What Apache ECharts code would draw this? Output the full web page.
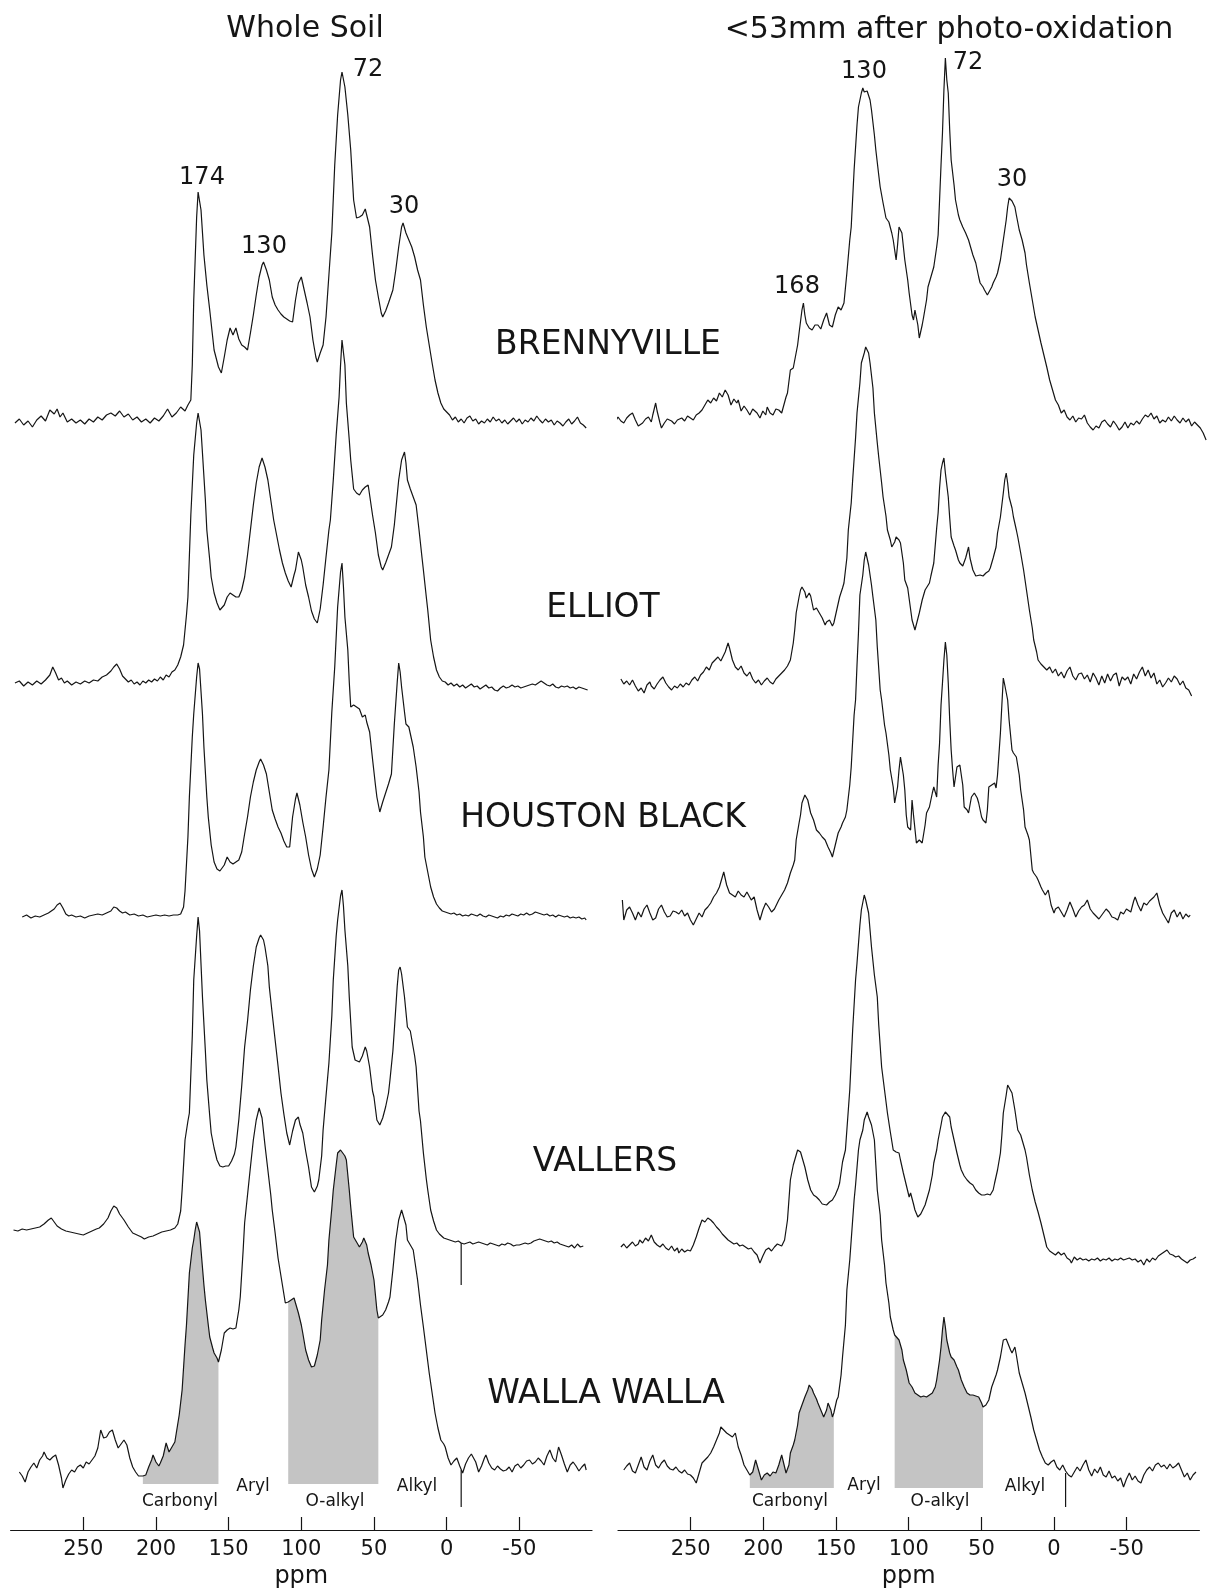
<!DOCTYPE html>
<html><head><meta charset="utf-8">
<script src="https://cdn.jsdelivr.net/npm/echarts@6.0.0/dist/echarts.min.js"></script>
<style>html,body{margin:0;padding:0;background:#fff}#c{width:1209px;height:1591px}</style>
</head><body><div id="c"></div>
<script>
// ---------------- DATA (ppm, intensity above each trace's baseline) ----------------
const tickValues = [250, 200, 150, 100, 50, 0, -50];
const sampleNames = ['BRENNYVILLE', 'ELLIOT', 'HOUSTON BLACK', 'VALLERS', 'WALLA WALLA'];
const panelTitles = ['Whole Soil', '<53mm after photo-oxidation'];
const peakLabelsLeft = ['174', '130', '72', '30'];
const peakLabelsRight = ['168', '130', '72', '30'];
const regionNames = ['Carbonyl', 'Aryl', 'O-alkyl', 'Alkyl'];
const fillRangesLeft = [[209, 157], [109, 47]];
const fillRangesRight = [[209, 151], [109, 48]];

const wsBrennyville = [[297,2],[294,6],[291,0],[288,4],[285,-2],[282,5],[279,9],[276,4],[273,15],[270,11],[268,16],[266,8],[264,12],[261,3],[258,6],[255,2],[252,5],[249,1],[246,6],[243,3],[240,8],[237,5],[234,10],[231,12],[228,9],[225,14],[222,8],[219,11],[216,5],[213,8],[210,3],[207,6],[204,2],[201,7],[198,4],[195,9],[192,16],[189,8],[186,12],[183,18],[180,14],[178,20],[176,25],[175,60],[174,125],[172,208],[171,233],[169,215],[167,170],[165,140],[163,115],[160,75],[157,58],[155,52],[153,68],[151,85],[149,97],[147,90],[145,97],[143,86],[141,80],[139,78],[137,75],[135,92],[133,110],[131,130],[129,148],[127,160],[126,163],[124,155],[122,145],[120,128],[118,120],[116,115],[114,111],[112,108],[110,106],[108,104],[106,103],[104,125],[102,142],[100,148],[98,135],[96,122],[94,108],[92,85],[90,68],[89,63],[87,72],[85,80],[83,108],[81,150],[79,192],[77,260],[75,310],[73,345],[72,353],[70,338],[68,310],[66,275],[64,225],[62,207],[60,208],[58,210],[56,216],[55,218],[53,198],[51,170],[49,145],[47,128],[45,112],[44,108],[42,114],[40,122],[37,135],[35,155],[33,178],[31,198],[30,202],[28,192],[26,185],[24,178],[22,168],[20,155],[18,145],[16,120],[14,98],[12,80],[10,62],[8,45],[6,32],[4,22],[2,16],[0,13],[-2,10],[-4,5],[-6,8],[-8,3],[-10,6],[-12,2],[-14,7],[-16,9],[-18,4],[-20,6],[-22,1],[-24,4],[-26,2],[-28,6],[-30,3],[-32,8],[-34,4],[-36,6],[-38,2],[-40,5],[-42,1],[-44,4],[-46,7],[-48,3],[-50,6],[-52,1],[-54,5],[-56,3],[-58,7],[-60,4],[-62,9],[-64,5],[-66,2],[-68,6],[-70,3],[-72,5],[-74,0],[-76,4],[-78,2],[-80,-1],[-82,3],[-84,6],[-86,1],[-88,4],[-90,8],[-92,2],[-94,0],[-96,-3]];

const wsElliot = [[297,2],[294,4],[291,-1],[288,3],[285,0],[282,4],[279,1],[276,5],[273,10],[271,18],[269,12],[267,5],[265,7],[263,2],[261,4],[258,0],[255,3],[252,1],[249,4],[246,2],[243,5],[240,4],[237,8],[234,10],[231,14],[229,18],[227,21],[225,16],[223,9],[221,6],[219,3],[217,5],[215,1],[213,3],[211,0],[209,4],[207,2],[205,5],[203,3],[201,6],[199,4],[197,8],[195,5],[193,10],[191,8],[189,13],[187,15],[185,20],[183,28],[181,40],[179,70],[178,88],[176,170],[174,230],[172,262],[171,272],[169,255],[168,232],[166,185],[165,155],[163,125],[162,108],[160,92],[158,82],[156,75],[155,73],[153,80],[151,88],[149,92],[147,90],[145,88],[143,88],[141,95],[139,108],[137,130],[135,155],[133,180],[131,202],[129,218],[127,227],[125,218],[123,205],[121,185],[119,165],[117,150],[115,135],[113,122],[111,112],[109,104],[107,98],[105,110],[104,115],[102,133],[100,125],[99,118],[97,100],[95,88],[93,74],[91,66],[89,62],[87,76],[85,100],[83,128],[81,155],[80,165],[78,205],[76,250],[74,288],[73,320],[72,345],[70,320],[69,282],[67,245],[66,225],[64,196],[62,192],[60,190],[58,195],[56,198],[54,200],[53,190],[51,170],[49,152],[47,130],[45,118],[44,115],[42,122],[40,130],[38,138],[36,160],[35,175],[33,205],[31,225],[29,233],[28,222],[27,205],[25,196],[23,188],[21,180],[19,155],[17,128],[16,115],[14,88],[13,75],[11,45],[9,28],[7,15],[5,8],[3,4],[1,3],[-1,0],[-3,2],[-5,-1],[-7,1],[-9,-2],[-11,0],[-13,-3],[-15,-1],[-17,1],[-19,-2],[-21,-1],[-23,-4],[-25,-2],[-27,0],[-29,-3],[-31,-2],[-33,-5],[-35,-6],[-37,-3],[-39,-1],[-41,-3],[-43,-2],[-45,0],[-47,-2],[-49,-1],[-51,-3],[-53,-2],[-55,-1],[-57,0],[-59,1],[-61,0],[-63,2],[-65,4],[-67,2],[-69,0],[-71,-1],[-73,1],[-75,-2],[-77,-3],[-79,-1],[-81,-2],[-83,-1],[-85,-3],[-87,-2],[-89,-4],[-91,-2],[-93,-3],[-95,-4],[-97,-5]];

const wsHouston = [[292,0],[289,2],[286,-1],[283,1],[280,0],[277,2],[274,4],[272,6],[270,8],[268,12],[266,14],[264,9],[262,3],[260,1],[258,2],[255,0],[252,1],[249,-1],[246,1],[243,2],[240,3],[237,2],[234,4],[231,6],[229,10],[227,9],[225,6],[223,4],[221,5],[218,2],[215,3],[212,1],[209,2],[206,0],[203,1],[200,2],[197,1],[194,2],[191,1],[188,2],[185,2],[183,3],[181,10],[180,26],[178,80],[177,120],[175,180],[174,203],[172,240],[171,254],[170,248],[168,203],[167,170],[165,120],[164,100],[162,72],[160,55],[158,48],[156,46],[155,47],[153,52],[151,60],[149,55],[147,53],[145,55],[143,57],[141,65],[139,83],[137,100],[135,120],[133,135],[131,147],[129,155],[128,158],[126,152],[124,143],[122,125],[120,107],[118,98],[116,90],[114,84],[112,76],[110,70],[108,70],[106,100],[104,118],[103,124],[101,112],[99,95],[97,80],[95,62],[93,48],[91,40],[89,48],[87,62],[85,90],[83,120],[81,147],[79,205],[77,250],[75,310],[73,345],[72,354],[71,330],[70,300],[68,267],[67,235],[66,210],[64,212],[62,210],[60,208],[58,200],[56,202],[55,195],[53,185],[51,158],[49,132],[48,120],[46,105],[44,115],[42,124],[40,133],[38,143],[36,193],[34,235],[33,254],[32,245],[31,230],[29,205],[28,193],[26,190],[25,190],[23,170],[21,150],[19,125],[18,105],[16,80],[15,60],[13,45],[11,30],[9,20],[7,13],[5,9],[3,6],[1,5],[-1,4],[-3,3],[-5,4],[-7,2],[-9,3],[-11,1],[-13,2],[-15,1],[-17,3],[-19,2],[-21,1],[-23,3],[-25,1],[-27,0],[-29,2],[-31,1],[-33,0],[-35,-1],[-37,1],[-39,0],[-41,2],[-43,1],[-45,3],[-47,2],[-49,1],[-51,3],[-53,2],[-55,4],[-57,2],[-59,3],[-61,5],[-63,4],[-65,3],[-67,2],[-69,3],[-71,1],[-73,2],[-75,0],[-77,2],[-79,1],[-81,0],[-83,1],[-85,-1],[-87,0],[-89,-1],[-91,0],[-93,-2],[-95,-1],[-96,-3]];

const wsVallers = [[298,6],[295,5],[292,7],[289,6],[286,7],[283,8],[280,9],[277,12],[274,16],[272,18],[270,14],[268,10],[265,7],[262,5],[259,4],[256,3],[253,2],[250,1],[247,3],[244,5],[241,7],[239,8],[236,12],[233,18],[231,25],[229,30],[227,28],[225,22],[222,16],[219,9],[216,3],[213,1],[210,-1],[208,-3],[205,-1],[202,0],[199,2],[196,4],[193,5],[190,6],[187,8],[185,12],[183,25],[182,46],[180,96],[178,115],[177,123],[175,200],[174,256],[172,300],[171,319],[170,305],[168,239],[166,185],[165,156],[163,120],[162,103],[160,88],[158,76],[156,70],[154,69],[152,70],[150,70],[148,75],[146,82],[145,89],[143,116],[141,150],[139,189],[137,215],[135,246],[133,270],[131,289],[129,298],[128,301],[126,296],[125,289],[123,270],[122,249],[120,222],[118,196],[116,170],[114,143],[112,122],[110,103],[108,91],[106,105],[104,116],[102,119],[101,112],[99,103],[97,85],[95,69],[93,49],[91,44],[89,50],[88,56],[86,80],[85,106],[83,140],[81,173],[79,220],[78,256],[76,300],[75,316],[73,340],[72,346],[71,330],[70,306],[68,270],[67,239],[65,189],[63,176],[62,174],[60,174],[58,180],[56,189],[55,185],[53,169],[51,145],[50,139],[48,116],[46,111],[44,118],[42,129],[40,143],[39,156],[37,185],[36,206],[34,250],[33,266],[32,269],[31,262],[29,239],[27,209],[25,205],[24,203],[22,180],[21,169],[19,125],[18,115],[16,83],[14,57],[13,46],[11,26],[9,15],[7,6],[5,2],[2,-2],[0,-3],[-2,-4],[-4,-5],[-6,-6],[-8,-5],[-10,-7],[-12,-8],[-14,-7],[-16,-6],[-18,-8],[-20,-7],[-22,-6],[-24,-7],[-26,-8],[-28,-9],[-30,-7],[-32,-8],[-34,-9],[-36,-10],[-38,-8],[-40,-9],[-42,-7],[-44,-8],[-46,-10],[-48,-9],[-50,-9],[-52,-8],[-54,-7],[-56,-8],[-58,-7],[-60,-5],[-62,-4],[-64,-3],[-66,-4],[-68,-5],[-70,-6],[-72,-5],[-74,-7],[-76,-6],[-78,-8],[-80,-9],[-82,-10],[-84,-11],[-86,-9],[-88,-12],[-90,-8],[-92,-11],[-94,-10]];

const wsWallaWalla = [[294,-2],[292,-6],[290,-12],[288,-2],[286,3],[284,7],[282,2],[280,10],[278,14],[277,18],[275,12],[273,10],[271,13],[269,15],[267,5],[265,-8],[264,-18],[262,-10],[260,-4],[258,0],[256,-2],[254,3],[252,5],[250,2],[248,8],[246,6],[244,10],[242,14],[240,22],[238,40],[236,32],[234,33],[232,38],[230,40],[228,30],[226,22],[224,26],[222,30],[220,25],[218,12],[216,3],[214,-2],[212,-6],[211,-7],[209,-6],[207,-5],[205,3],[203,10],[202,15],[200,8],[198,4],[197,7],[195,14],[193,27],[191,18],[189,23],[187,28],[186,37],[184,55],[182,80],[180,125],[179,145],[177,197],[175,222],[174,230],[173,240],[172,248],[170,238],[169,220],[167,185],[166,170],[164,145],[163,133],[161,122],[160,117],[158,112],[157,108],[155,120],[153,137],[151,140],[149,142],[147,141],[145,142],[143,160],[142,173],[140,220],[139,247],[137,275],[135,303],[133,330],[131,350],[129,362],[127,352],[125,325],[123,300],[121,275],[120,260],[118,237],[116,212],[115,203],[113,185],[111,167],[109,168],[107,170],[105,172],[104,173],[102,157],[100,145],[99,137],[97,120],[95,110],[93,103],[91,104],[89,115],[87,130],[86,150],[84,180],[82,205],[81,230],[79,262],[78,280],[76,305],[75,317],[73,320],[72,320],[70,314],[69,310],[67,280],[66,263],[64,233],[62,228],[60,223],[58,228],[57,232],[55,225],[54,217],[52,205],[50,190],[49,175],[48,160],[47,152],[46,150],[44,155],[42,160],[40,168],[39,173],[37,200],[35,230],[33,250],[31,260],[30,262],[28,245],[27,230],[25,225],[23,220],[21,200],[20,190],[18,165],[16,143],[14,120],[12,97],[10,77],[8,57],[6,42],[4,30],[2,26],[1,23],[-1,12],[-3,5],[-5,9],[-7,12],[-9,4],[-11,-3],[-13,6],[-15,12],[-17,16],[-18,18],[-20,8],[-22,-2],[-24,4],[-26,12],[-27,15],[-29,7],[-31,2],[-33,0],[-35,4],[-37,1],[-39,-1],[-41,0],[-43,3],[-45,-2],[-47,4],[-49,6],[-51,2],[-53,5],[-55,9],[-57,10],[-59,6],[-61,8],[-63,12],[-65,9],[-67,5],[-69,14],[-71,20],[-73,12],[-75,8],[-77,23],[-79,15],[-81,6],[-83,-2],[-85,5],[-87,8],[-89,4],[-91,-1],[-93,3],[-95,6],[-96,0]];

const poBrennyville = [[304,-2],[302,3],[300,8],[298,4],[296,2],[294,7],[292,10],[290,12],[288,5],[286,-1],[285,-3],[283,2],[281,6],[279,8],[277,3],[276,10],[274,22],[273,14],[271,2],[270,-3],[268,2],[266,6],[265,8],[263,4],[261,1],[259,5],[258,3],[256,7],[254,4],[252,9],[250,7],[248,5],[246,10],[244,12],[242,15],[240,20],[238,25],[236,22],[234,27],[232,24],[230,32],[228,28],[226,35],[224,30],[222,20],[220,26],[218,22],[217,25],[215,14],[213,19],[211,15],[209,10],[207,16],[206,18],[204,12],[202,7],[200,14],[198,10],[197,18],[195,12],[193,10],[191,16],[189,15],[187,12],[186,14],[184,28],[183,32],[181,55],[179,57],[178,58],[176,80],[175,92],[173,115],[172,122],[171,110],[170,102],[168,97],[166,95],[164,100],[162,100],[160,96],[158,105],[156,112],[154,100],[152,98],[150,110],[148,118],[146,115],[144,122],[142,152],[140,185],[139,198],[137,255],[135,300],[134,318],[132,332],[131,337],[130,333],[128,334],[126,325],[125,315],[123,290],[122,275],[120,250],[119,238],[117,222],[115,207],[113,203],[111,192],[110,185],[108,165],[107,180],[106,198],[104,192],[102,165],[100,145],[99,132],[97,110],[96,105],[95,115],[93,100],[92,87],[90,100],[89,108],[87,125],[86,138],[84,148],[82,158],[80,178],[79,190],[78,225],[77,260],[76,292],[75,335],[74,367],[73,345],[72,332],[71,295],[70,265],[68,240],[67,225],[65,210],[64,205],[62,198],[60,192],[58,185],[56,175],[55,170],[53,162],[51,148],[50,142],[48,138],[47,135],[45,130],[44,128],[42,138],[41,142],[39,148],[38,152],[36,165],[35,175],[33,195],[32,205],[31,218],[30,227],[28,224],[26,218],[25,210],[23,195],[21,185],[19,172],[18,160],[16,142],[14,125],[12,108],[10,95],[8,82],[6,70],[4,58],[2,45],[0,35],[-2,25],[-4,20],[-6,12],[-8,15],[-10,8],[-12,5],[-14,9],[-16,3],[-18,7],[-20,6],[-22,10],[-24,2],[-26,-2],[-28,-5],[-30,-1],[-32,-3],[-34,3],[-36,5],[-38,1],[-40,-2],[-42,4],[-44,0],[-46,-5],[-48,-2],[-50,3],[-52,-3],[-54,2],[-56,0],[-58,4],[-60,1],[-62,6],[-64,10],[-66,8],[-68,12],[-70,6],[-72,9],[-74,2],[-76,5],[-78,3],[-80,8],[-82,4],[-84,9],[-86,5],[-88,2],[-90,7],[-92,3],[-94,6],[-96,-1],[-98,3],[-100,0],[-102,-3],[-104,-8],[-106,-15]];

const poElliot = [[298,9],[296,4],[294,7],[292,3],[290,8],[288,2],[286,-3],[284,0],[282,-5],[280,3],[278,6],[277,2],[275,-1],[273,4],[271,8],[269,11],[267,5],[265,1],[263,-2],[261,2],[259,0],[257,4],[255,1],[253,5],[251,3],[249,8],[247,11],[245,7],[243,13],[241,16],[239,21],[237,18],[235,25],[233,28],[231,31],[229,27],[227,33],[226,36],[224,45],[223,40],[221,28],[219,21],[217,18],[215,22],[213,15],[211,12],[209,16],[207,9],[205,5],[203,8],[201,3],[199,7],[197,10],[195,6],[193,4],[191,9],[189,12],[187,15],[185,18],[183,22],[181,28],[179,45],[178,58],[177,75],[175,91],[174,98],[173,101],[171,96],[170,90],[168,95],[167,92],[165,78],[163,80],[161,75],[159,70],[157,63],[156,66],[154,68],[152,62],[151,65],[149,78],[147,91],[145,100],[144,105],[142,130],[141,158],[139,185],[138,208],[136,250],[135,275],[133,305],[132,325],[130,335],[129,341],[127,335],[126,325],[124,300],[123,275],[121,245],[120,231],[118,205],[117,191],[115,172],[114,158],[112,148],[111,141],[109,146],[108,151],[106,148],[105,145],[103,125],[102,108],[100,100],[99,98],[97,68],[95,58],[94,60],[92,75],[90,88],[88,98],[87,100],[85,105],[84,112],[82,125],[80,160],[79,175],[78,200],[77,218],[76,225],[75,230],[74,215],[72,191],[71,170],[70,151],[68,142],[67,138],[65,128],[64,125],[62,122],[60,130],[58,141],[57,130],[55,118],[53,112],[52,110],[50,113],[48,112],[46,115],[44,117],[43,120],[41,130],[39,141],[38,155],[36,171],[34,195],[33,208],[32,215],[31,205],[30,191],[28,180],[27,171],[25,158],[24,151],[22,135],[20,118],[18,98],[16,78],[14,60],[13,48],[11,36],[10,28],[8,24],[6,21],[4,18],[2,21],[0,15],[-2,19],[-4,12],[-6,16],[-8,10],[-10,17],[-12,21],[-14,12],[-16,8],[-18,14],[-20,15],[-22,9],[-24,13],[-26,6],[-28,15],[-30,10],[-32,3],[-34,12],[-36,5],[-38,14],[-40,7],[-42,13],[-44,15],[-46,2],[-48,11],[-50,8],[-52,11],[-54,4],[-56,14],[-58,9],[-60,16],[-62,21],[-64,12],[-66,18],[-68,10],[-70,15],[-72,4],[-74,8],[-76,1],[-78,5],[-80,10],[-82,6],[-84,12],[-86,9],[-88,3],[-90,7],[-92,0],[-94,-2],[-96,-8]];

const poHouston = [[297,15],[296,-5],[294,5],[292,8],[290,2],[288,-5],[286,3],[284,-2],[282,6],[280,10],[278,2],[276,-5],[274,-3],[272,6],[270,10],[268,3],[266,-2],[264,-1],[262,4],[260,3],[258,1],[256,5],[254,-1],[252,2],[250,-5],[248,-10],[246,-4],[244,2],[242,-2],[240,5],[238,8],[236,12],[234,18],[232,22],[230,28],[228,38],[227,43],[225,30],[223,22],[221,20],[219,18],[217,24],[215,20],[213,18],[211,23],[210,25],[208,15],[206,18],[204,5],[202,-5],[200,5],[198,12],[196,8],[194,3],[192,6],[190,12],[189,15],[187,20],[185,25],[183,32],[181,42],[179,50],[178,55],[177,75],[175,92],[174,100],[173,112],[171,120],[170,122],[169,115],[167,102],[165,95],[163,85],[161,82],[159,78],[157,75],[155,68],[153,62],[152,58],[150,70],[148,82],[146,88],[145,92],[143,98],[142,105],[140,130],[139,148],[137,200],[136,215],[135,250],[134,282],[133,320],[131,340],[130,355],[129,363],[127,350],[125,330],[124,318],[122,295],[121,268],[119,225],[118,215],[116,190],[115,182],[113,160],[112,145],[110,128],[109,112],[107,128],[106,145],[105,158],[103,140],[102,125],[101,100],[100,88],[98,85],[97,115],[96,100],[94,72],[92,75],[90,72],[88,90],[87,102],[85,108],[83,122],[82,128],[80,118],[79,150],[78,172],[77,210],[76,232],[75,255],[74,273],[73,260],[72,232],[71,195],[70,165],[69,145],[68,128],[67,138],[66,148],[64,150],[63,152],[62,130],[61,108],[59,105],[58,102],[56,118],[55,120],[54,122],[52,117],[51,112],[49,98],[48,95],[46,92],[45,105],[44,128],[42,130],[40,132],[39,127],[38,140],[36,182],[35,210],[34,237],[33,230],[31,215],[30,195],[28,165],[27,162],[25,158],[23,140],[22,125],[20,105],[19,88],[17,80],[16,75],[14,45],[13,42],[11,38],[10,35],[8,28],[7,25],[5,20],[3,25],[1,10],[-1,2],[-2,6],[-4,8],[-6,3],[-8,-2],[-10,5],[-12,13],[-14,6],[-16,-2],[-18,4],[-20,8],[-22,10],[-24,15],[-26,6],[-28,2],[-30,-1],[-32,-4],[-33,-5],[-35,2],[-37,6],[-39,3],[-41,-2],[-43,-3],[-45,-5],[-47,3],[-49,1],[-51,6],[-52,8],[-54,3],[-56,14],[-57,18],[-59,10],[-61,4],[-63,12],[-65,10],[-67,14],[-68,15],[-70,18],[-72,22],[-74,10],[-76,2],[-78,-3],[-80,-8],[-82,2],[-84,5],[-86,-2],[-88,3],[-90,-4],[-92,1],[-94,-2],[-95,0]];

const poVallers = [[298,3],[296,6],[294,2],[292,5],[290,8],[288,4],[286,6],[285,10],[283,7],[281,12],[279,9],[277,15],[275,8],[273,5],[271,3],[269,6],[267,2],[265,0],[263,4],[261,-1],[259,2],[258,-3],[256,1],[254,-2],[252,0],[250,-1],[248,5],[246,13],[244,22],[242,30],[240,28],[238,32],[236,30],[234,27],[232,23],[230,20],[228,16],[226,13],[224,10],[222,8],[220,6],[218,7],[216,4],[214,5],[212,3],[210,1],[208,2],[206,-2],[204,-5],[202,-13],[200,-6],[198,0],[196,2],[194,-1],[192,3],[190,6],[189,8],[187,4],[185,10],[183,30],[181,70],[179,85],[178,90],[176,100],[175,102],[174,98],[172,88],[171,83],[169,70],[167,60],[165,55],[163,53],[161,50],[159,46],[158,45],[156,45],[154,48],[152,50],[150,55],[148,62],[147,67],[145,88],[143,100],[141,140],[140,160],[138,220],[136,270],[135,287],[133,325],[132,340],[130,355],[129,350],[127,337],[126,320],[125,303],[123,275],[121,253],[120,225],[118,183],[116,160],[114,137],[112,118],[110,100],[108,98],[106,97],[105,90],[103,77],[101,65],[99,53],[98,57],[96,46],[95,40],[93,33],[91,36],[89,42],[88,45],[86,55],[85,60],[83,75],[82,87],[80,100],[79,110],[77,125],[76,133],[74,138],[73,140],[71,133],[70,123],[68,110],[66,97],[64,85],[63,80],[61,74],[59,70],[57,67],[55,65],[53,60],[51,57],[49,55],[47,55],[45,56],[43,55],[41,60],[40,67],[38,80],[36,97],[35,115],[34,137],[32,155],[31,165],[30,167],[28,157],[26,140],[24,120],[22,115],[21,110],[19,100],[18,93],[16,75],[14,60],[12,48],[10,38],[8,27],[6,15],[4,3],[2,-1],[0,-3],[-2,-5],[-4,-2],[-6,-5],[-8,-3],[-10,-8],[-12,-10],[-13,-13],[-15,-7],[-17,-10],[-19,-8],[-21,-10],[-23,-9],[-25,-11],[-27,-9],[-29,-10],[-31,-8],[-33,-11],[-35,-9],[-37,-10],[-39,-8],[-41,-11],[-43,-9],[-45,-10],[-47,-8],[-49,-10],[-51,-9],[-53,-8],[-55,-10],[-57,-9],[-59,-12],[-61,-10],[-63,-15],[-65,-9],[-67,-12],[-69,-8],[-71,-10],[-73,-6],[-75,-4],[-77,-2],[-79,0],[-81,-4],[-83,-5],[-85,-7],[-87,-6],[-89,-9],[-91,-11],[-93,-13],[-95,-10],[-97,-9],[-99,-7]];

const poWallaWalla = [[296,5],[294,9],[292,12],[290,4],[288,2],[286,10],[284,18],[282,8],[280,5],[278,14],[276,20],[274,10],[272,7],[270,12],[268,15],[266,9],[264,6],[262,5],[260,8],[258,4],[256,2],[254,5],[252,1],[250,0],[248,-3],[246,-8],[244,2],[242,12],[240,15],[238,18],[236,22],[234,28],[232,35],[230,42],[229,48],[227,45],[225,42],[223,40],[221,38],[219,42],[217,28],[215,20],[213,10],[211,5],[209,0],[207,3],[205,15],[203,5],[201,-5],[199,0],[197,2],[195,-1],[193,3],[191,2],[189,10],[187,20],[185,8],[184,2],[182,10],[181,22],[179,30],[178,35],[176,50],[175,62],[173,70],[171,78],[169,85],[168,90],[166,86],[165,82],[163,76],[162,72],[160,65],[158,58],[156,65],[155,72],[153,65],[152,58],[151,62],[149,75],[148,78],[146,100],[145,118],[143,150],[142,185],[140,215],[139,235],[137,275],[136,290],[134,325],[133,335],[131,345],[130,355],[128,363],[127,358],[125,350],[123,335],[122,310],[121,285],[119,260],[118,235],[116,210],[115,192],[113,172],[112,158],[110,145],[109,140],[108,138],[106,135],[104,125],[103,115],[101,105],[99,92],[97,88],[95,82],[93,80],[91,78],[89,79],[87,78],[85,80],[83,82],[81,88],[80,95],[78,115],[77,128],[76,145],[75,158],[74,148],[73,135],[71,122],[70,118],[68,115],[66,108],[65,105],[63,95],[61,88],[59,82],[57,80],[55,80],[53,79],[51,78],[49,72],[48,68],[46,70],[44,75],[42,88],[41,92],[39,100],[38,105],[36,118],[34,135],[32,136],[31,137],[29,125],[28,122],[26,128],[25,120],[23,102],[21,92],[19,82],[17,70],[15,58],[13,45],[11,35],[9,25],[7,18],[5,12],[3,10],[1,13],[-1,15],[-3,8],[-5,5],[-7,10],[-9,4],[-11,0],[-13,-2],[-15,3],[-17,8],[-19,4],[-21,10],[-23,15],[-25,5],[-27,-1],[-29,6],[-31,2],[-33,8],[-35,0],[-37,-2],[-39,4],[-41,-3],[-43,-1],[-45,-6],[-47,-3],[-49,-12],[-51,-4],[-53,2],[-55,-5],[-57,-1],[-59,-6],[-61,-8],[-63,0],[-65,5],[-67,8],[-69,4],[-71,10],[-73,12],[-75,8],[-77,10],[-79,6],[-81,11],[-83,7],[-85,9],[-87,12],[-89,5],[-91,-2],[-93,2],[-95,-5],[-97,0],[-99,3]];

// reference tick marks below baselines (ppm, intensity)
const markerWsVallers = [[-10, -7], [-10, -49]];
const markerWsWalla = [[-10, 0], [-10, -37]];
const markerPoWalla = [[-9, 2], [-9, -32]];

// ---------------- LAYOUT ----------------
const FONT = '"DejaVu Sans", sans-serif';
const INK = '#151515';
const PX_PER_PPM = 1.4535;
const PANEL_LEFT = [10.6, 618];
const BASE_LEFT = [425, 685, 917, 1236, 1470];
const BASE_RIGHT = [425, 688, 915, 1250, 1475];
const Y_MIN = -60, Y_MAX = 400;
const AXIS_Y = 1530;

const grids = [], xAxes = [], yAxes = [], series = [];

function addTrace(data, panel, base, ppmMin, fills, fillOrigin, marker) {
  const gi = grids.length;
  grids.push({ left: PANEL_LEFT[panel], width: (300 - ppmMin) * PX_PER_PPM, top: base - Y_MAX, height: Y_MAX - Y_MIN });
  xAxes.push({ gridIndex: gi, type: 'value', inverse: true, min: ppmMin, max: 300, show: false });
  yAxes.push({ gridIndex: gi, type: 'value', min: Y_MIN, max: Y_MAX, show: false });
  if (fills) {
    fills.forEach(r => {
      series.push({
        type: 'line', xAxisIndex: gi, yAxisIndex: gi, silent: true, animation: false,
        data: data.filter(p => p[0] <= r[0] && p[0] >= r[1]),
        symbol: 'none', lineStyle: { width: 0 },
        areaStyle: { color: '#c4c4c4', opacity: 1, origin: fillOrigin }, z: 2
      });
    });
  }
  series.push({
    type: 'line', xAxisIndex: gi, yAxisIndex: gi, data, silent: true, animation: false,
    symbol: 'none', lineStyle: { color: INK, width: 1.2 }, z: 3
  });
  if (marker) {
    series.push({
      type: 'line', xAxisIndex: gi, yAxisIndex: gi, data: marker, silent: true, animation: false,
      symbol: 'none', lineStyle: { color: INK, width: 1.2 }, z: 3
    });
  }
}

const wsTraces = [wsBrennyville, wsElliot, wsHouston, wsVallers, wsWallaWalla];
const poTraces = [poBrennyville, poElliot, poHouston, poVallers, poWallaWalla];
wsTraces.forEach((d, i) => addTrace(d, 0, BASE_LEFT[i], -100,
  i === 4 ? fillRangesLeft : null, -14,
  i === 3 ? markerWsVallers : (i === 4 ? markerWsWalla : null)));
poTraces.forEach((d, i) => addTrace(d, 1, BASE_RIGHT[i], -108,
  i === 4 ? fillRangesRight : null, -13,
  i === 4 ? markerPoWalla : null));

// bottom ppm axes
[0, 1].forEach(panel => {
  const gi = grids.length;
  grids.push({ left: PANEL_LEFT[panel], width: 400 * PX_PER_PPM, top: AXIS_Y - 50, height: 50 });
  xAxes.push({
    gridIndex: gi, type: 'value', inverse: true, min: -100, max: 300, position: 'bottom',
    axisLine: { show: true, onZero: false, lineStyle: { color: INK, width: 1.2 } },
    axisTick: { show: true, inside: true, length: 13, customValues: tickValues, lineStyle: { color: INK, width: 1.2 } },
    axisLabel: { show: true, customValues: tickValues, fontSize: 21, color: INK, margin: 9, fontFamily: FONT },
    splitLine: { show: false },
    name: 'ppm', nameLocation: 'middle', nameGap: 35,
    nameTextStyle: { fontSize: 24, color: INK, fontFamily: FONT }
  });
  yAxes.push({ gridIndex: gi, type: 'value', min: 0, max: 1, show: false });
});

// text annotations
const txt = (text, x, y, size) => ({
  type: 'text', x, y, silent: true,
  style: { text, fontSize: size, fontFamily: FONT, fill: INK, align: 'center', verticalAlign: 'middle' }
});
const sampleLabelPos = [[608, 345], [603, 608], [603, 818], [605, 1162], [606, 1394]];
const peakPosLeft = [[202, 178], [264, 247], [368, 70], [404, 207]];
const peakPosRight = [[797, 287], [864, 72], [968, 63], [1012, 180]];
const regionPosLeft = [[180, 1502], [253, 1487], [335, 1502], [417, 1487]];
const regionPosRight = [[790, 1502], [864, 1486], [940, 1502], [1025, 1487]];
const graphics = [];
graphics.push(txt(panelTitles[0], 305, 29, 30));
graphics.push(txt(panelTitles[1], 949, 30, 30));
sampleNames.forEach((s, i) => graphics.push(txt(s, sampleLabelPos[i][0], sampleLabelPos[i][1], 33)));
peakLabelsLeft.forEach((s, i) => graphics.push(txt(s, peakPosLeft[i][0], peakPosLeft[i][1], 24)));
peakLabelsRight.forEach((s, i) => graphics.push(txt(s, peakPosRight[i][0], peakPosRight[i][1], 24)));
regionNames.forEach((s, i) => {
  graphics.push(txt(s, regionPosLeft[i][0], regionPosLeft[i][1], 17));
  graphics.push(txt(s, regionPosRight[i][0], regionPosRight[i][1], 17));
});

const chart = echarts.init(document.getElementById('c'), null, { renderer: 'canvas' });
chart.setOption({
  backgroundColor: '#ffffff',
  animation: false,
  grid: grids, xAxis: xAxes, yAxis: yAxes, series,
  graphic: graphics
});
</script></body></html>
